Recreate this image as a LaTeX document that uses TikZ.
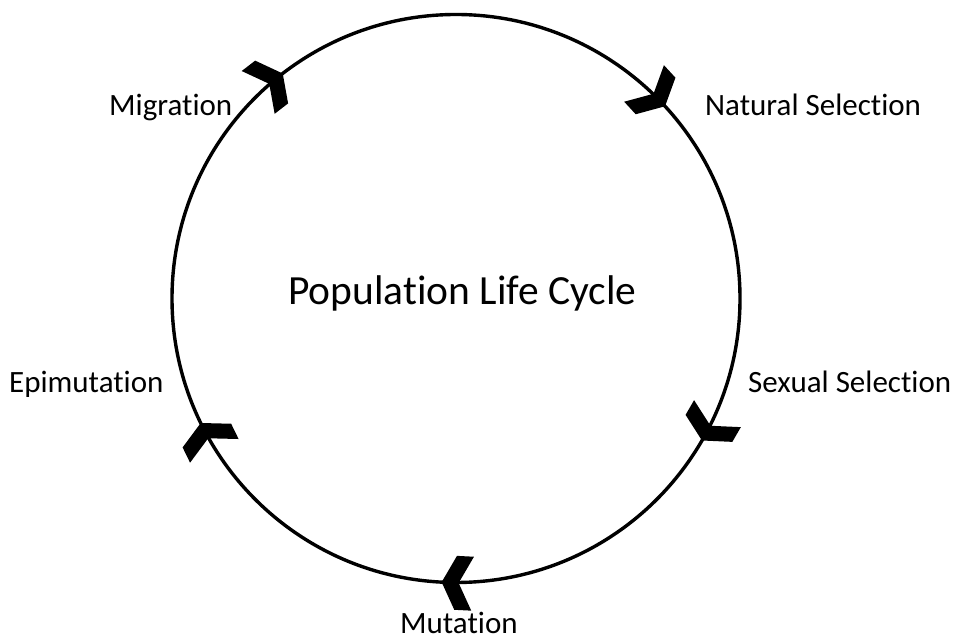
\documentclass[tikz,border=0pt]{standalone}
\usepackage{fontspec}
\setmainfont{Carlito}[Ligatures=NoCommon]
\begin{document}
\begin{tikzpicture}[x=1pt,y=1pt,
  lbl/.style={font=\fontsize{31}{34}\selectfont, inner sep=0pt, anchor=base west},
  ring/.style={circle, draw=black, line width=3.4pt, minimum size=568pt, inner sep=0pt},
  chevtip/.style={fill=black, draw=none}]
\useasboundingbox (0,0) rectangle (960,642);
\node[ring] (cyc) at (456,343.5) {};
\node[font=\fontsize{41.5}{46}\selectfont, inner sep=0pt, anchor=base west] (title) at (288,337) {Population Life Cycle};
\node[lbl] (mig) at (109,526) {Migration};
\node[lbl] (nat) at (705,526) {Natural Selection};
\node[lbl] (sex) at (748,249) {Sexual Selection};
\node[lbl] (epi) at (9,249) {Epimutation};
\node[lbl] (mut) at (400,9) {Mutation};
\foreach \a in {127.6, 42.6, -30, -92.9, 206}{
  \fill[chevtip, shift={(cyc.center)}, rotate=\a-90, yshift=284pt]
    (0,0) -- (-14,27) -- (-31,27) -- (-17,0) -- (-31,-27) -- (-14,-27) -- cycle;
}
\end{tikzpicture}
\end{document}
